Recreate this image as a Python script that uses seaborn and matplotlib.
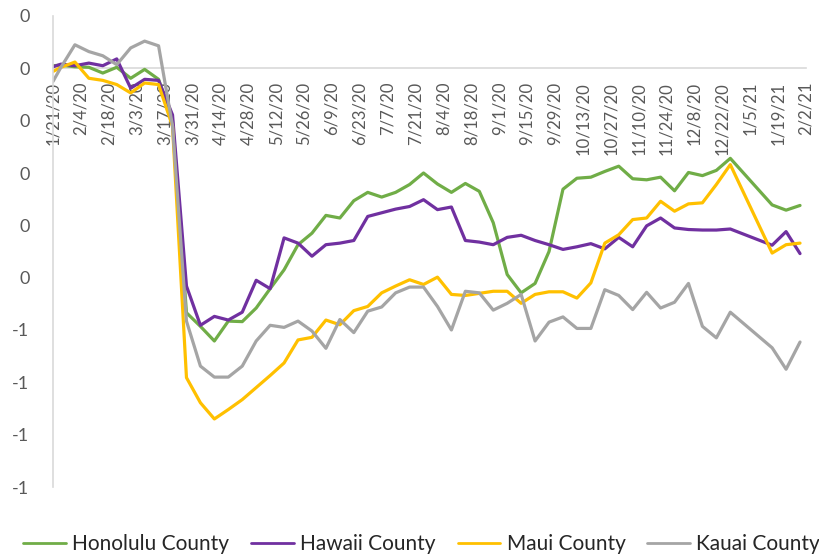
import matplotlib
matplotlib.use("Agg")
import matplotlib.pyplot as plt
from matplotlib.lines import Line2D
import seaborn as sns
import pandas as pd

# ---------------- data ----------------
first_date = ["2020-01-21"]
weekly_start = "2020-01-25"   # weekly observations (Saturdays) through 2020-12-26
weekly_end = "2020-12-26"
late_dates = ["2021-01-16", "2021-01-23", "2021-01-30"]

honolulu = [0.005, 0.006, 0.003, 0.002, -0.009, 0.002, -0.019, -0.002, -0.021, -0.100,
            -0.467, -0.493, -0.521, -0.483, -0.484, -0.458, -0.421, -0.385, -0.337, -0.315,
            -0.281, -0.286, -0.253, -0.237, -0.246, -0.237, -0.222, -0.200, -0.221, -0.237,
            -0.220, -0.235, -0.295, -0.394, -0.429, -0.411, -0.350, -0.231, -0.210, -0.208,
            -0.197, -0.187, -0.211, -0.213, -0.208, -0.234, -0.199, -0.205, -0.195, -0.172,
            -0.261, -0.271, -0.262]
hawaii = [0.003, 0.008, 0.005, 0.010, 0.005, 0.018, -0.038, -0.021, -0.023, -0.089,
          -0.416, -0.491, -0.474, -0.481, -0.466, -0.405, -0.421, -0.324, -0.334, -0.359,
          -0.337, -0.334, -0.329, -0.283, -0.276, -0.269, -0.264, -0.251, -0.270, -0.265,
          -0.329, -0.332, -0.337, -0.323, -0.319, -0.329, -0.337, -0.346, -0.341, -0.335,
          -0.345, -0.323, -0.341, -0.301, -0.286, -0.305, -0.308, -0.309, -0.309, -0.307,
          -0.338, -0.312, -0.354]
maui = [-0.006, 0.002, 0.012, -0.019, -0.023, -0.031, -0.047, -0.028, -0.031, -0.111,
        -0.591, -0.639, -0.670, -0.652, -0.633, -0.610, -0.587, -0.563, -0.519, -0.514,
        -0.481, -0.490, -0.463, -0.455, -0.429, -0.416, -0.404, -0.413, -0.399, -0.432,
        -0.434, -0.430, -0.426, -0.426, -0.449, -0.432, -0.427, -0.427, -0.439, -0.410,
        -0.334, -0.318, -0.289, -0.286, -0.254, -0.273, -0.259, -0.257, -0.222, -0.184,
        -0.353, -0.337, -0.334]
kauai = [-0.025, 0.002, 0.045, 0.032, 0.024, 0.007, 0.039, 0.052, 0.043, -0.110,
         -0.483, -0.569, -0.590, -0.590, -0.569, -0.521, -0.491, -0.495, -0.483, -0.502,
         -0.535, -0.480, -0.505, -0.464, -0.456, -0.429, -0.418, -0.418, -0.455, -0.500,
         -0.426, -0.429, -0.462, -0.449, -0.432, -0.521, -0.485, -0.475, -0.497, -0.497,
         -0.423, -0.434, -0.461, -0.428, -0.458, -0.447, -0.411, -0.493, -0.515, -0.466,
         -0.534, -0.575, -0.523]

series_names = ["Honolulu County", "Hawaii County", "Maui County", "Kauai County"]
series_colors = ["#70AD47", "#7030A0", "#FFC000", "#A5A5A5"]

y_tick_values = [0.1, 0.0, -0.1, -0.2, -0.3, -0.4, -0.5, -0.6, -0.7, -0.8]
y_tick_labels = ["0", "0", "0", "0", "0", "0", "-1", "-1", "-1", "-1"]
x_axis_start = "2020-01-21"
x_axis_end = "2021-02-02"

# ---------------- build table ----------------
dates = (list(pd.to_datetime(first_date))
         + list(pd.date_range(weekly_start, weekly_end, freq="7D"))
         + list(pd.to_datetime(late_dates)))
frames = []
for name, vals in zip(series_names, [honolulu, hawaii, maui, kauai]):
    frames.append(pd.DataFrame({"date": dates, "value": vals, "county": name}))
df = pd.concat(frames, ignore_index=True)

# ---------------- plot ----------------
sns.set_theme(style="white")
plt.rcParams["font.family"] = ["Lato", "DejaVu Sans"]

fig = plt.figure(figsize=(8.19, 5.58), dpi=100)
ax = fig.add_axes([53 / 819, 1 - 487 / 558, (806 - 53) / 819, (487 - 16) / 558])

sns.lineplot(data=df, x="date", y="value", hue="county", hue_order=series_names,
             palette=series_colors, linewidth=2.3, ax=ax, legend=False, sort=False)

# spines first (set_position resets tick properties)
for s in ["top", "right"]:
    ax.spines[s].set_visible(False)
ax.spines["bottom"].set_position(("data", 0))
ax.spines["bottom"].set_color("#D9D9D9")
ax.spines["left"].set_color("#D9D9D9")
ax.spines["bottom"].set_linewidth(1.2)
ax.spines["left"].set_linewidth(1.2)
ax.spines["bottom"].set_zorder(0)

ax.set_xlim(pd.Timestamp(x_axis_start), pd.Timestamp(x_axis_end))
ax.set_ylim(min(y_tick_values), max(y_tick_values))

tick_dates = pd.date_range(x_axis_start, x_axis_end, freq="14D")
ax.set_xticks(tick_dates)
ax.set_xticklabels([f"{d.month}/{d.day}/{d.strftime('%y')}" for d in tick_dates])
ax.set_yticks(y_tick_values)
ax.set_yticklabels(y_tick_labels)

ax.tick_params(axis="x", direction="out", length=4.3, width=1.2, color="#D9D9D9", pad=5.5,
               labelrotation=90, labelsize=12, labelcolor="#595959")
ax.tick_params(axis="y", direction="in", length=5, width=1.2, color="#D9D9D9", pad=17,
               labelsize=13, labelcolor="#595959")
for lbl in ax.get_xticklabels():
    lbl.set_va("top")
    lbl.set_ha("center")

ax.set_xlabel("")
ax.set_ylabel("")
ax.grid(False)

handles = [Line2D([0], [0], color=c, lw=2.0) for c in series_colors]
fig.legend(handles, series_names, loc="lower center", bbox_to_anchor=(0.515, -0.027),
           ncol=4, frameon=False, fontsize=15, handlelength=2.05, handletextpad=0.3,
           columnspacing=1.05, labelcolor="#262626")

fig.savefig("out.png", dpi=100)
